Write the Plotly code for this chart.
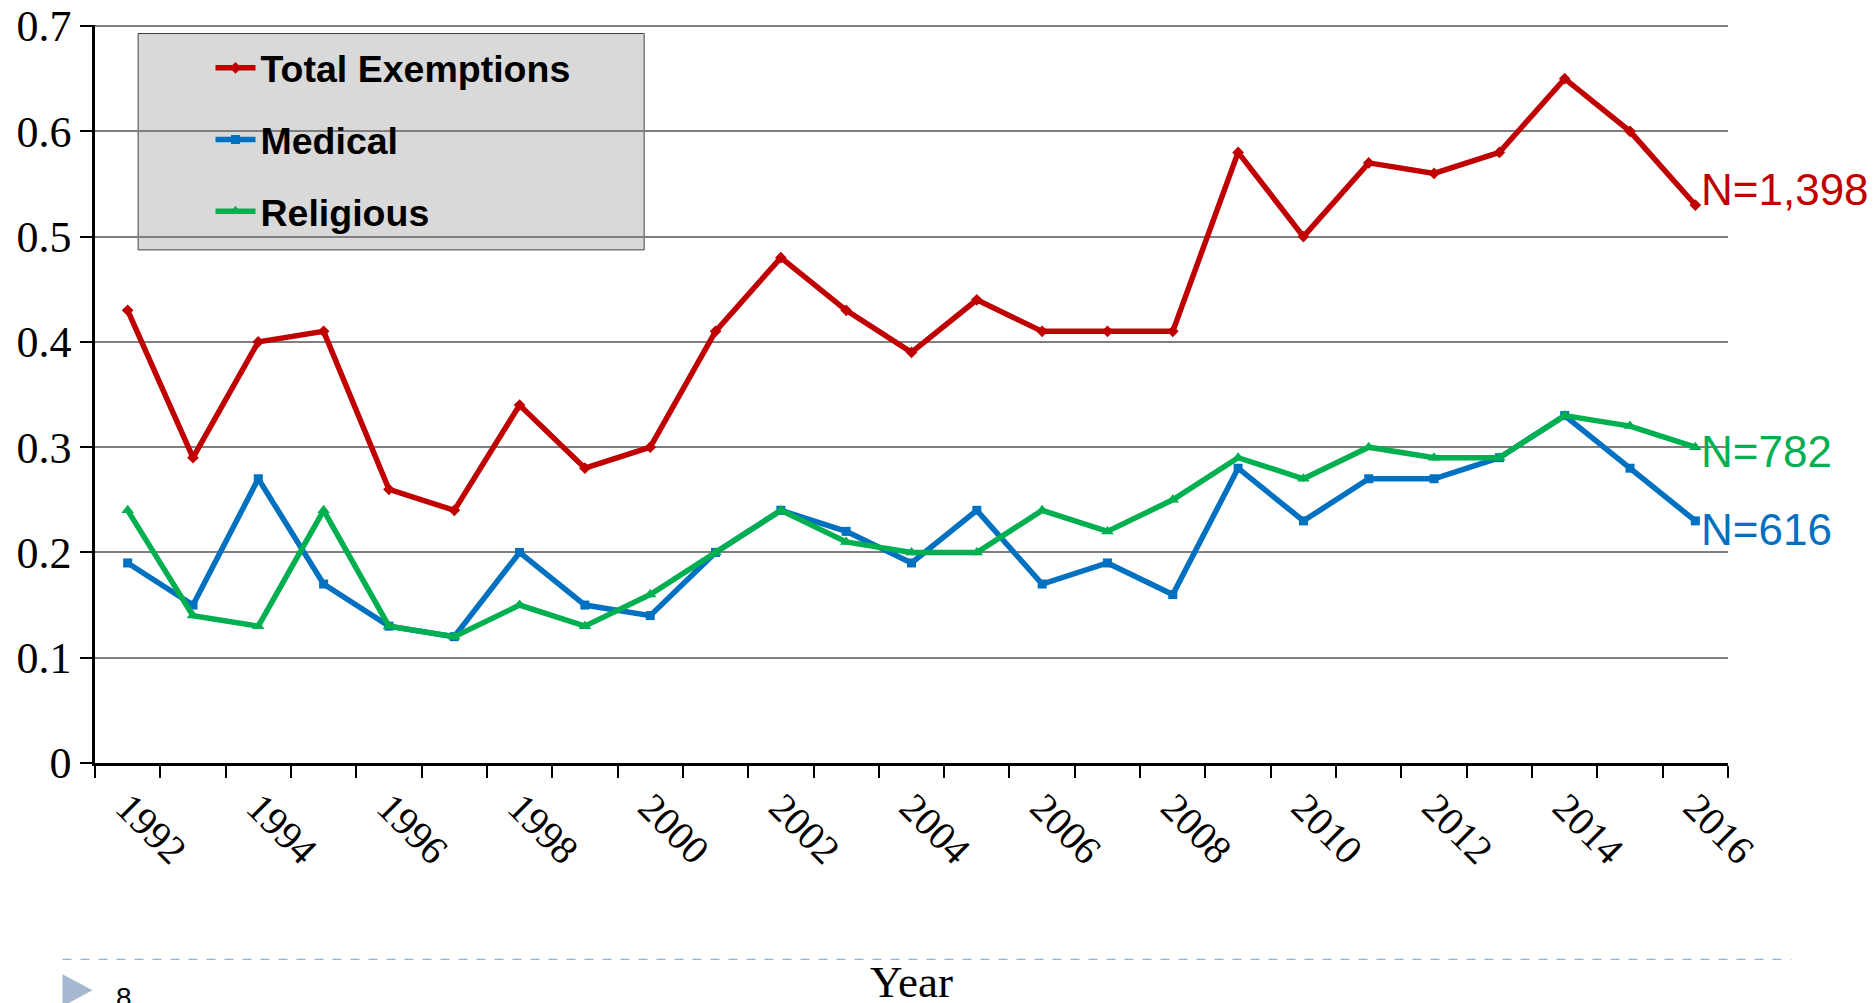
import plotly.graph_objects as go

years = list(range(1992, 2017))
total = [0.43, 0.29, 0.40, 0.41, 0.26, 0.24, 0.34, 0.28, 0.30, 0.41, 0.48, 0.43, 0.39,
         0.44, 0.41, 0.41, 0.41, 0.58, 0.50, 0.57, 0.56, 0.58, 0.65, 0.60, 0.53]
medical = [0.19, 0.15, 0.27, 0.17, 0.13, 0.12, 0.20, 0.15, 0.14, 0.20, 0.24, 0.22, 0.19,
           0.24, 0.17, 0.19, 0.16, 0.28, 0.23, 0.27, 0.27, 0.29, 0.33, 0.28, 0.23]
religious = [0.24, 0.14, 0.13, 0.24, 0.13, 0.12, 0.15, 0.13, 0.16, 0.20, 0.24, 0.21, 0.20,
             0.20, 0.24, 0.22, 0.25, 0.29, 0.27, 0.30, 0.29, 0.29, 0.33, 0.32, 0.30]
tick_years = list(range(1992, 2017, 2))
tick_labels = [str(y) for y in tick_years]
y_ticks = [0, 0.1, 0.2, 0.3, 0.4, 0.5, 0.6, 0.7]
y_tick_labels = ["0", "0.1", "0.2", "0.3", "0.4", "0.5", "0.6", "0.7"]
n_labels = {"Total Exemptions": "N=1,398", "Medical": "N=616", "Religious": "N=782"}

RED, BLUE, GREEN = "#C00000", "#0070C0", "#00B050"

W, H = 1876, 1003
L, R, T, B = 94.5, 148.4, 25.0, 239.5
PW, PH = W - L - R, H - T - B

def px(x):
    return (x - L) / PW

def py(y):
    return (H - B - y) / PH

fig = go.Figure()
series = [("Total Exemptions", total, RED, "diamond", 9),
          ("Medical", medical, BLUE, "square", 9),
          ("Religious", religious, GREEN, "triangle-up", 11)]
for name, vals, col, sym, ms in series:
    fig.add_trace(go.Scatter(
        x=years, y=vals, name=name, mode="lines+markers",
        legendgroup=name,
        line=dict(color=col, width=5.5),
        marker=dict(color=col, symbol=sym, size=ms),
    ))

# N labels at the last point of each series
shifts = {"Total Exemptions": 16, "Medical": -9, "Religious": -4}
for name, vals, col, _, _ in series:
    fig.add_annotation(x=years[-1], y=vals[-1], xref="x", yref="y",
                       text=n_labels[name], showarrow=False,
                       xanchor="left", yanchor="middle", xshift=4, yshift=shifts[name],
                       font=dict(family="Liberation Sans, Arial", size=44, color=col))

# Legend box
fig.add_shape(type="rect", xref="paper", yref="paper",
              x0=px(137.6), x1=px(643.7), y0=py(250), y1=py(33.5),
              fillcolor="#D9D9D9", line=dict(color="#404040", width=1), layer="below")

# Axis title
fig.add_annotation(x=0.5, y=py(983), xref="paper", yref="paper", text="Year",
                   showarrow=False, xanchor="center", yanchor="middle",
                   font=dict(family="Liberation Serif, Times New Roman", size=45, color="black"))

# Slide footer: dashed line, triangle, page number
fig.add_shape(type="line", xref="paper", yref="paper",
              x0=px(62), x1=px(1791), y0=py(960), y1=py(960),
              line=dict(color="#8EB4E3", width=1.2, dash="dash"))
fig.add_shape(type="path", xref="paper", yref="paper",
              path=f"M {px(62)},{py(975)} L {px(92)},{py(991)} L {px(62)},{py(1007)} Z",
              fillcolor="#A6B8D0", line=dict(width=0))
fig.add_annotation(x=px(114), y=py(981), xref="paper", yref="paper", text="8",
                   showarrow=False, xanchor="left", yanchor="top",
                   font=dict(family="Liberation Sans, Arial", size=28, color="black"))

fig.update_layout(
    width=W, height=H,
    margin=dict(l=L, r=R, t=T, b=B, autoexpand=False),
    paper_bgcolor="white", plot_bgcolor="white",
    showlegend=True,
    legend=dict(x=px(210), y=py(37), xanchor="left", yanchor="top",
                bgcolor="rgba(0,0,0,0)", borderwidth=0,
                font=dict(family="Liberation Sans, Arial", size=37.5, color="black", weight="bold"),
                tracegroupgap=20, itemwidth=40),
    xaxis=dict(range=[1991.5, 2016.5], tickvals=tick_years, ticktext=tick_labels,
               tickangle=45, ticks="", showgrid=False, zeroline=False,
               showline=True, linecolor="black", linewidth=2.5,
               ticklabelstandoff=2,
               tickfont=dict(family="Liberation Serif, Times New Roman", size=40, color="black"),
               minor=dict(ticks="outside", ticklen=12, tickwidth=1.5, tickcolor="black",
                          tick0=1991.5, dtick=1, showgrid=False)),
    yaxis=dict(range=[0, 0.701], tickvals=y_ticks, ticktext=y_tick_labels,
               ticks="outside", ticklen=12, tickwidth=2, tickcolor="black",
               showline=True, linecolor="black", linewidth=2.5,
               showgrid=True, gridcolor="#7F7F7F", gridwidth=1.5, zeroline=False,
               tickfont=dict(family="Liberation Serif, Times New Roman", size=44, color="black")),
)

fig.write_html("out.html", config={"displayModeBar": False},
               post_script="document.body.style.margin='0';")
